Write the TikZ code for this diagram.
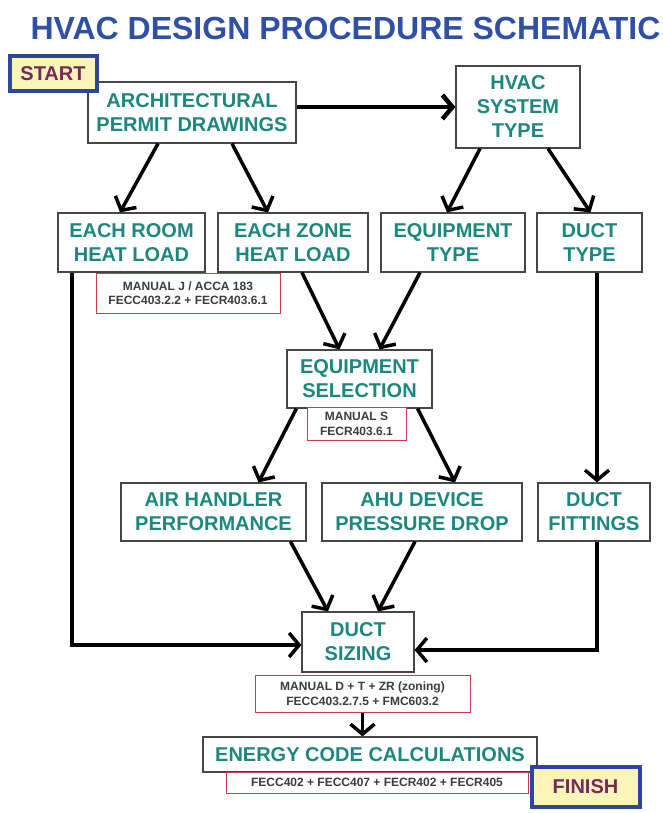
\documentclass[tikz,border=0pt]{standalone}
\usepackage{fontspec}
\setmainfont{Liberation Sans}
\usetikzlibrary{arrows.meta}
\definecolor{titleblue}{RGB}{48,80,165}
\definecolor{tealtxt}{RGB}{28,135,125}
\definecolor{purptxt}{RGB}{120,40,90}
\definecolor{paleyel}{RGB}{252,245,185}
\definecolor{frameblue}{RGB}{45,70,160}
\definecolor{notered}{RGB}{205,60,75}
\definecolor{notetxt}{RGB}{60,60,60}
\definecolor{boxline}{RGB}{70,70,70}
\tikzset{
  stepbox/.style={draw=boxline, line width=1.2pt, fill=white, inner sep=0pt,
    align=center, text=tealtxt, font=\fontsize{20}{24}\selectfont\bfseries},
  notebox/.style={draw=notered, line width=1pt, fill=white, inner sep=0pt,
    align=center, text=notetxt, font=\fontsize{12}{14.5}\selectfont\bfseries},
  endbox/.style={draw=frameblue, line width=4pt, fill=paleyel, inner sep=0pt,
    text=purptxt, font=\fontsize{20}{24}\selectfont\bfseries},
  flow/.style={line width=3.5pt, -{Straight Barb[length=10pt,width=24pt]}},
}
\begin{document}
\begin{tikzpicture}[x=1pt,y=-1pt]
\useasboundingbox (0,0) rectangle (663,813);
\node[text=titleblue, font=\fontsize{32}{36}\selectfont\bfseries, anchor=base west] (title) at (27,40) {HVAC DESIGN PROCEDURE SCHEMATIC};

\node[stepbox, minimum width=208pt, minimum height=61pt] (arch) at (192,112.5) {ARCHITECTURAL\\PERMIT DRAWINGS};
\node[endbox, minimum width=87pt, minimum height=35pt] (start) at (53,74) {START};
\node[stepbox, minimum width=124pt, minimum height=82pt] (hvac) at (518,107) {HVAC\\SYSTEM\\TYPE};

\node[stepbox, minimum width=147pt, minimum height=59pt] (room) at (131.5,242.5) {EACH ROOM\\HEAT LOAD};
\node[stepbox, minimum width=150pt, minimum height=59pt] (zone) at (293,242.5) {EACH ZONE\\HEAT LOAD};
\node[stepbox, minimum width=144pt, minimum height=59pt] (eqtype) at (453,242.5) {EQUIPMENT\\TYPE};
\node[stepbox, minimum width=105pt, minimum height=59pt] (ducttype) at (589.5,242.5) {DUCT\\TYPE};
\node[notebox, minimum width=184pt, minimum height=40pt] (note1) at (188,293) {MANUAL J / ACCA 183\\FECC403.2.2 + FECR403.6.1};

\node[stepbox, minimum width=145pt, minimum height=58pt] (eqsel) at (359.5,379) {EQUIPMENT\\SELECTION};
\node[notebox, minimum width=99pt, minimum height=33pt] (note2) at (356.5,424) {MANUAL S\\FECR403.6.1};

\node[stepbox, minimum width=185pt, minimum height=58pt] (airh) at (213.5,512) {AIR HANDLER\\PERFORMANCE};
\node[stepbox, minimum width=200pt, minimum height=58pt] (ahu) at (422,512) {AHU DEVICE\\PRESSURE DROP};
\node[stepbox, minimum width=112pt, minimum height=58pt] (fittings) at (594,512) {DUCT\\FITTINGS};

\node[stepbox, minimum width=112pt, minimum height=60pt] (sizing) at (358,642) {DUCT\\SIZING};
\node[notebox, minimum width=215pt, minimum height=37pt] (note3) at (362.5,693.5) {MANUAL D + T + ZR (zoning)\\FECC403.2.7.5 + FMC603.2};

\node[stepbox, minimum width=334pt, minimum height=35pt] (energy) at (370,754.5) {ENERGY CODE CALCULATIONS};
\node[notebox, minimum width=302pt, minimum height=21pt] (note4) at (377,782.5) {FECC402 + FECC407 + FECR402 + FECR405};
\node[endbox, minimum width=108pt, minimum height=40pt] (finish) at (585.5,786.5) {FINISH};

% connectors
\draw[flow, line width=4.5pt] (arch.east |- hvac.west) -- (hvac.west);
\draw[flow] ([xshift=-34pt]arch.south) -- ([xshift=-11.5pt]room.north);
\draw[flow] ([xshift=40pt]arch.south) -- ([xshift=-25pt]zone.north);
\draw[flow] ([xshift=-38pt]hvac.south) -- ([xshift=-6pt]eqtype.north);
\draw[flow] ([xshift=30pt]hvac.south) -- ([xshift=1pt]ducttype.north);
\draw[flow] ([xshift=9pt]zone.south) -- ([xshift=-20pt]eqsel.north);
\draw[flow] ([xshift=-33pt]eqtype.south) -- ([xshift=20pt]eqsel.north);
\draw[flow] ([xshift=10pt]eqsel.south west) -- ([xshift=45pt]airh.north);
\draw[flow] ([xshift=-15pt]eqsel.south east) -- ([xshift=33pt]ahu.north);
\draw[flow] ([xshift=7.5pt]ducttype.south) -- ([xshift=3pt]fittings.north);
\draw[flow] ([xshift=77pt]airh.south) -- ([xshift=-30pt]sizing.north);
\draw[flow] ([xshift=-7pt]ahu.south) -- ([xshift=20pt]sizing.north);
\draw[flow] ([xshift=-59.5pt]room.south) |- ([yshift=-3pt]sizing.west);
\draw[flow] ([xshift=3pt]fittings.south) |- ([yshift=-8pt]sizing.east);
\draw[flow] (note3.south) -- (note3.south |- energy.north);
\end{tikzpicture}
\end{document}
